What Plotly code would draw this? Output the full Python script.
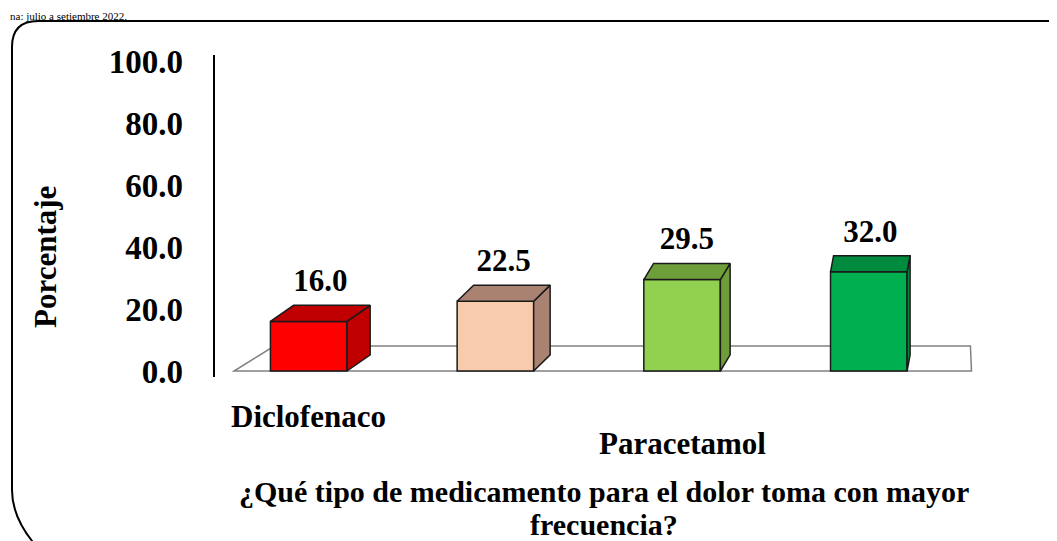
import plotly.graph_objects as go

# ---- data ----
positions = [1, 2, 3, 4]
values = [16.0, 22.5, 29.5, 32.0]
tick_labels = ["Diclofenaco", "", "Paracetamol", ""]
front_colors = ["#FF0000", "#F8CBAD", "#92D050", "#00B050"]
face_colors = ["#C00000", "#A98272", "#6E9E3A", "#008A3E"]
y_ticks = [0, 20, 40, 60, 80, 100]
x_title_lines = ["¿Qué tipo de medicamento para el dolor toma con mayor", "frecuencia?"]
y_title = "Porcentaje"
header = "na: julio a setiembre 2022."

W, H = 1057, 541
OFF = 8  # page offset of the figure inside the browser body
FONT = "Liberation Serif"


def px(p):
    return (p - OFF) / W


def py(p):
    return 1 - (p - OFF) / H


half_w = 0.205
depth_y = 5.2
vp = 4.45
k = 0.036


def depth_x(x):
    return k * (vp - x)


fig = go.Figure()

# side and top faces (pseudo 3D)
for x, v, fc in zip(positions, values, face_colors):
    dx = depth_x(x)
    xr = x + half_w
    xl = x - half_w
    fig.add_trace(go.Scatter(
        x=[xr, xr, xr + dx, xr + dx, xr], y=[0, v, v + depth_y, depth_y, 0],
        mode="lines", fill="toself", fillcolor=fc,
        line=dict(color="#1a1a1a", width=1.5), hoverinfo="skip", showlegend=False))
    fig.add_trace(go.Scatter(
        x=[xl, xr, xr + dx, xl + dx, xl], y=[v, v, v + depth_y, v + depth_y, v],
        mode="lines", fill="toself", fillcolor=fc,
        line=dict(color="#1a1a1a", width=1.5), hoverinfo="skip", showlegend=False))

# front faces
fig.add_trace(go.Bar(
    x=positions, y=values, width=2 * half_w,
    marker=dict(color=front_colors, line=dict(color="#1a1a1a", width=1.5)),
    showlegend=False))

# value labels
fig.add_trace(go.Scatter(
    x=[x + depth_x(x) / 2 for x in positions],
    y=[v + depth_y + 2 for v in values],
    mode="text", text=[f"{v:.1f}" for v in values],
    textposition="top center",
    textfont=dict(family=FONT, size=31, color="black", weight="bold"),
    hoverinfo="skip", showlegend=False))

# axis calibration (page pixels)
x0, x1 = 0.5, 4.65
page_x1 = 308.7            # page x of category 1
ppx = 186.7                # pixels per category
y0, y1 = -2, 102
page_y0 = 371              # page y of value 0
ppy = 3.1                  # pixels per unit

xdom = [px(page_x1 + (x0 - 1) * ppx), px(page_x1 + (x1 - 1) * ppx)]
ydom = [py(page_y0 - y0 * ppy), py(page_y0 - y1 * ppy)]

# floor
fx0, fx1 = 0.6, 4.55
floor_dy = depth_y * 1.55
fl = 0.056
fig.add_shape(type="path", xref="x", yref="y", layer="below",
              path=(f"M {fx0},0 L {fx1},0 L {fx1 + fl*(vp-fx1)},{floor_dy} "
                    f"L {fx0 + fl*(vp-fx0)},{floor_dy} Z"),
              line=dict(color="#808080", width=1.5), fillcolor="white")

# rounded border
rx, ry = 26 / W, 26 / H
bl, bt, br, bb = px(12), py(21), px(1075), py(542)
fig.add_shape(type="path", xref="paper", yref="paper",
              path=(f"M {bl},{bb + 2*ry} L {bl},{bt - ry} Q {bl},{bt} {bl + rx},{bt} "
                    f"L {br - rx},{bt} Q {br},{bt} {br},{bt - ry} "
                    f"M {bl},{bb + 2*ry} Q {bl},{bb + ry} {bl + rx*0.8},{bb}"),
              line=dict(color="black", width=2))

annotations = []
for x, lab in zip(positions, tick_labels):
    if not lab:
        continue
    xpage = page_x1 + (x - 1) * ppx
    ypage = 417 + 0.071 * (xpage - 311)
    annotations.append(dict(x=x, xref="x", y=py(ypage), yref="paper",
                            text=lab, showarrow=False, xanchor="center", yanchor="middle",
                            font=dict(family=FONT, size=31, color="black", weight="bold")))
for i, line in enumerate(x_title_lines):
    annotations.append(dict(x=px(604), y=py(491 + 33 * i), xref="paper", yref="paper",
                            text=line, showarrow=False, xanchor="center", yanchor="middle",
                            font=dict(family=FONT, size=30, color="black", weight="bold")))
annotations.append(dict(x=px(45), y=py(257), xref="paper", yref="paper",
                        text=y_title, textangle=-90, showarrow=False,
                        xanchor="center", yanchor="middle",
                        font=dict(family=FONT, size=31, color="black", weight="bold")))
annotations.append(dict(x=0, y=1, xref="paper", yref="paper",
                        text=header, showarrow=False, xanchor="left", yanchor="top",
                        font=dict(family=FONT, size=11, color="black")))

fig.update_layout(
    width=W, height=H,
    margin=dict(l=0, r=0, t=0, b=0),
    paper_bgcolor="white", plot_bgcolor="white",
    annotations=annotations,
    xaxis=dict(range=[x0, x1], domain=xdom, showgrid=False, automargin=False,
               zeroline=False, showticklabels=False, showline=False, fixedrange=True),
    yaxis=dict(range=[y0, y1], domain=ydom,
               tickvals=y_ticks, ticktext=[f"{t:.1f}" for t in y_ticks], automargin=False,
               showgrid=False, zeroline=False, showline=True, linecolor="black", linewidth=1.5,
               ticks="", ticklabelstandoff=24,
               tickfont=dict(family=FONT, size=33, color="black", weight="bold"),
               fixedrange=True),
)

fig.write_html("out.html")
